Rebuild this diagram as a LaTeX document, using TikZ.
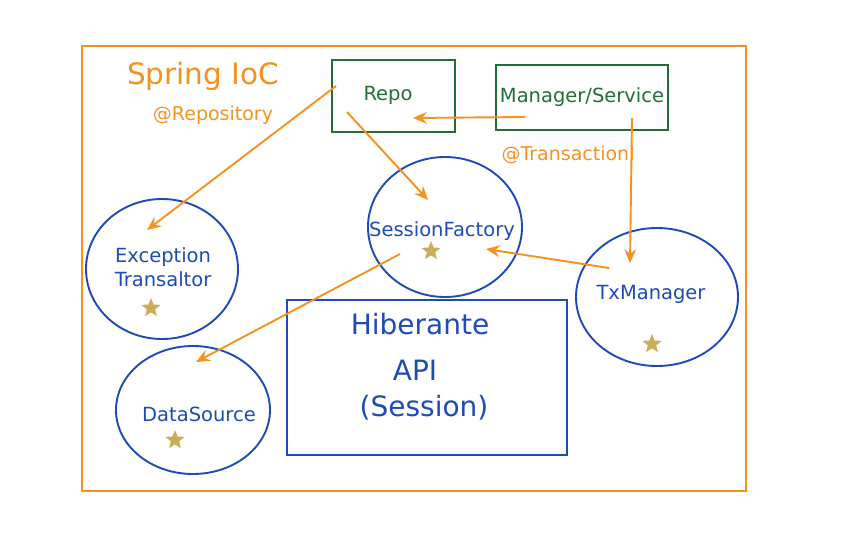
\documentclass[tikz,border=0pt]{standalone}
\usepackage{fontspec}
\setmainfont{DejaVu Sans}
\usetikzlibrary{shapes.geometric,arrows.meta}
\definecolor{iocorange}{RGB}{245,146,30}
\definecolor{beangreen}{RGB}{35,110,55}
\definecolor{beanblue}{RGB}{30,75,180}
\definecolor{stargold}{RGB}{204,172,88}

\begin{document}
\begin{tikzpicture}[x=1pt,y=-1pt,
    bean/.style={draw=beanblue, line width=1.9pt, ellipse, inner sep=0pt},
    beantext/.style={text=beanblue, font=\fontsize{19.5}{24}\selectfont, align=center, inner sep=0pt},
    comp/.style={draw=beangreen, line width=2pt, text=beangreen, font=\fontsize{19.5}{24}\selectfont},
    note/.style={text=iocorange, font=\fontsize{19}{23}\selectfont, inner sep=0pt},
    goldstar/.style={star, star points=5, star point ratio=2.3, fill=stargold, inner sep=0pt, minimum size=20pt},
    wire/.style={draw=iocorange, line width=1.9pt, -{Stealth[length=14pt,width=12pt,inset=5pt]}}]
    \useasboundingbox (0,0) rectangle (851,536);
    \fill[white] (0,0) rectangle (851,536);

    % container
    \node[draw=iocorange, line width=2.2pt, minimum width=664pt, minimum height=445pt] (ioc) at (414,268.5) {};
    \node[text=iocorange, font=\fontsize{29.5}{35}\selectfont, inner sep=0pt] (ioctitle) at (203,76) {Spring IoC};
    \node[note] (reponote) at (213,115) {@Repository};
    \node[note] (txnote) at (568,155) {@Transactionl};

    % components
    \node[comp, minimum width=123pt, minimum height=72pt] (repo) at (393.5,96) {};
    \node[text=beangreen, font=\fontsize{19.5}{24}\selectfont, inner sep=0pt] (repotext) at (388,95) {Repo};
    \node[comp, minimum width=172pt, minimum height=65pt] (mgr) at (582,97.5) {Manager/Service};

    % beans
    \node[bean, minimum width=154pt, minimum height=140pt] (sf) at (445,227) {};
    \node[beantext] (sftext) at (442,231) {SessionFactory};
    \node[goldstar] (sfstar) at (431,251) {};

    \node[bean, minimum width=152pt, minimum height=140pt] (exc) at (162,269) {};
    \node[beantext] (exctext) at (163,267) {Exception\\Transaltor};
    \node[goldstar] (excstar) at (151,308) {};

    \node[bean, minimum width=162pt, minimum height=138pt] (tx) at (657,297) {};
    \node[beantext] (txtext) at (651,294) {TxManager};
    \node[goldstar] (txstar) at (652,344) {};

    \node[bean, minimum width=154pt, minimum height=128pt] (ds) at (193,410) {};
    \node[beantext] (dstext) at (199,414) {DataSource};
    \node[goldstar] (dsstar) at (175,440) {};

    % hibernate api
    \node[draw=beanblue, line width=1.9pt, minimum width=280pt, minimum height=155pt] (hib) at (427,377.5) {};
    \node[beantext, font=\fontsize{28}{34}\selectfont] (hibline1) at (420,324) {Hiberante};
    \node[beantext, font=\fontsize{28}{34}\selectfont] (hibline2) at (415,370) {API};
    \node[beantext, font=\fontsize{28}{34}\selectfont] (hibline3) at (424,408) {(Session)};

    % wiring
    \draw[wire] ([shift={(-57.5,-10)}]repo.center) -- ([shift={(-15,-39)}]exc.center);
    \draw[wire] ([shift={(-46.5,16)}]repo.center) -- ([shift={(-17,-27)}]sf.center);
    \draw[wire] ([shift={(-57,19.5)}]mgr.center) -- ([shift={(19.5,22)}]repo.center);
    \draw[wire] ([shift={(50,20.5)}]mgr.center) -- ([shift={(-27,-34)}]tx.center);
    \draw[wire] ([shift={(-48,-29)}]tx.center) -- ([shift={(41,22)}]sf.center);
    \draw[wire] ([shift={(-45,27)}]sf.center) -- ([shift={(3,-48)}]ds.center);
\end{tikzpicture}
\end{document}
